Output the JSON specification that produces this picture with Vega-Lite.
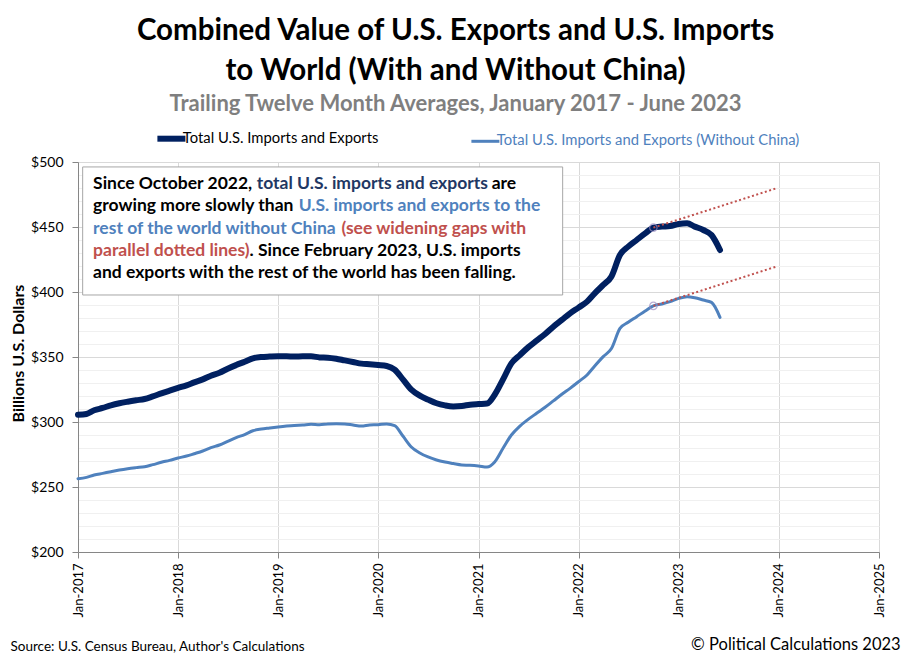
{
  "$schema": "https://vega.github.io/schema/vega-lite/v6.json",
  "width": 801,
  "height": 390,
  "autosize": "none",
  "padding": {"left": 78, "top": 162, "right": 31, "bottom": 110},
  "background": "white",
  "title": {
    "text": ["Combined Value of U.S. Exports and U.S. Imports", "to World (With and Without China)"],
    "subtitle": "Trailing Twelve Month Averages, January 2017 - June 2023",
    "anchor": "middle",
    "dx": -23,
    "font": "Lato",
    "fontSize": 29.5,
    "fontWeight": "bold",
    "color": "#000000",
    "lineHeight": 40,
    "subtitleFont": "Lato",
    "subtitleFontSize": 22,
    "subtitleFontWeight": "bold",
    "subtitleColor": "#7f7f7f",
    "subtitlePadding": 8,
    "offset": 15
  },
  "config": {"view": {"stroke": null}, "font": "Lato"},
  "datasets": {
    "series": [
      {"date": "2017-01-01", "total": 305.6, "without_china": 256.4},
      {"date": "2017-02-01", "total": 306.2, "without_china": 257.4},
      {"date": "2017-03-01", "total": 309.0, "without_china": 259.2},
      {"date": "2017-04-01", "total": 310.8, "without_china": 260.5},
      {"date": "2017-05-01", "total": 312.8, "without_china": 261.8},
      {"date": "2017-06-01", "total": 314.4, "without_china": 263.1},
      {"date": "2017-07-01", "total": 315.6, "without_china": 264.1},
      {"date": "2017-08-01", "total": 316.7, "without_china": 264.9},
      {"date": "2017-09-01", "total": 317.7, "without_china": 265.6},
      {"date": "2017-10-01", "total": 319.7, "without_china": 267.2},
      {"date": "2017-11-01", "total": 322.0, "without_china": 269.0},
      {"date": "2017-12-01", "total": 324.1, "without_china": 270.5},
      {"date": "2018-01-01", "total": 326.2, "without_china": 272.3},
      {"date": "2018-02-01", "total": 328.2, "without_china": 273.8},
      {"date": "2018-03-01", "total": 330.5, "without_china": 275.6},
      {"date": "2018-04-01", "total": 332.8, "without_china": 277.7},
      {"date": "2018-05-01", "total": 335.6, "without_china": 280.3},
      {"date": "2018-06-01", "total": 337.9, "without_china": 282.3},
      {"date": "2018-07-01", "total": 341.0, "without_china": 285.1},
      {"date": "2018-08-01", "total": 343.8, "without_china": 288.0},
      {"date": "2018-09-01", "total": 346.4, "without_china": 290.3},
      {"date": "2018-10-01", "total": 349.0, "without_china": 293.3},
      {"date": "2018-11-01", "total": 350.0, "without_china": 294.6},
      {"date": "2018-12-01", "total": 350.3, "without_china": 295.4},
      {"date": "2019-01-01", "total": 350.5, "without_china": 296.2},
      {"date": "2019-02-01", "total": 350.5, "without_china": 296.9},
      {"date": "2019-03-01", "total": 350.3, "without_china": 297.4},
      {"date": "2019-04-01", "total": 350.5, "without_china": 297.7},
      {"date": "2019-05-01", "total": 350.5, "without_china": 298.2},
      {"date": "2019-06-01", "total": 349.7, "without_china": 297.9},
      {"date": "2019-07-01", "total": 349.5, "without_china": 298.5},
      {"date": "2019-08-01", "total": 348.7, "without_china": 298.7},
      {"date": "2019-09-01", "total": 347.4, "without_china": 298.5},
      {"date": "2019-10-01", "total": 346.2, "without_china": 297.7},
      {"date": "2019-11-01", "total": 344.9, "without_china": 296.9},
      {"date": "2019-12-01", "total": 344.4, "without_china": 297.7},
      {"date": "2020-01-01", "total": 343.8, "without_china": 297.9},
      {"date": "2020-02-01", "total": 343.1, "without_china": 298.5},
      {"date": "2020-03-01", "total": 340.3, "without_china": 297.2},
      {"date": "2020-04-01", "total": 332.6, "without_china": 289.0},
      {"date": "2020-05-01", "total": 324.9, "without_china": 280.8},
      {"date": "2020-06-01", "total": 320.3, "without_china": 276.2},
      {"date": "2020-07-01", "total": 317.2, "without_china": 273.1},
      {"date": "2020-08-01", "total": 314.4, "without_china": 270.8},
      {"date": "2020-09-01", "total": 312.8, "without_china": 269.2},
      {"date": "2020-10-01", "total": 312.0, "without_china": 268.0},
      {"date": "2020-11-01", "total": 312.3, "without_china": 266.9},
      {"date": "2020-12-01", "total": 313.3, "without_china": 266.7},
      {"date": "2021-01-01", "total": 313.8, "without_china": 266.2},
      {"date": "2021-02-01", "total": 314.2, "without_china": 265.4},
      {"date": "2021-03-01", "total": 321.0, "without_china": 269.3},
      {"date": "2021-04-01", "total": 333.0, "without_china": 280.0},
      {"date": "2021-05-01", "total": 345.1, "without_china": 290.0},
      {"date": "2021-06-01", "total": 351.5, "without_china": 296.9},
      {"date": "2021-07-01", "total": 357.4, "without_china": 302.0},
      {"date": "2021-08-01", "total": 362.6, "without_china": 306.7},
      {"date": "2021-09-01", "total": 367.7, "without_china": 311.3},
      {"date": "2021-10-01", "total": 373.3, "without_china": 316.2},
      {"date": "2021-11-01", "total": 378.5, "without_china": 321.3},
      {"date": "2021-12-01", "total": 383.6, "without_china": 325.9},
      {"date": "2022-01-01", "total": 388.0, "without_china": 331.0},
      {"date": "2022-02-01", "total": 392.6, "without_china": 336.2},
      {"date": "2022-03-01", "total": 399.0, "without_china": 343.1},
      {"date": "2022-04-01", "total": 405.4, "without_china": 350.3},
      {"date": "2022-05-01", "total": 412.0, "without_china": 356.5},
      {"date": "2022-06-01", "total": 428.5, "without_china": 372.0},
      {"date": "2022-07-01", "total": 434.9, "without_china": 376.7},
      {"date": "2022-08-01", "total": 440.0, "without_china": 381.0},
      {"date": "2022-09-01", "total": 445.1, "without_china": 385.4},
      {"date": "2022-10-01", "total": 449.5, "without_china": 389.3},
      {"date": "2022-11-01", "total": 450.3, "without_china": 390.8},
      {"date": "2022-12-01", "total": 450.8, "without_china": 392.6},
      {"date": "2023-01-01", "total": 452.3, "without_china": 395.1},
      {"date": "2023-02-01", "total": 452.8, "without_china": 396.4},
      {"date": "2023-03-01", "total": 450.3, "without_china": 395.6},
      {"date": "2023-04-01", "total": 447.7, "without_china": 393.8},
      {"date": "2023-05-01", "total": 443.8, "without_china": 392.0},
      {"date": "2023-06-01", "total": 432.3, "without_china": 380.5}
    ],
    "trend": [
      {"date": "2022-10-01", "total": 449.5, "without_china": 389.3},
      {"date": "2023-12-20", "total": 479.5, "without_china": 419.3}
    ],
    "notebox": [
      {"start": "2017-01-18", "end": "2021-11-04", "low": 397.7, "high": 496.2}
    ],
    "notes": [
      {"date": "2017-02-25", "value": 479.0, "text": "Since October 2022,", "kind": "black"},
      {"date": "2018-10-15", "value": 479.0, "text": "total U.S. imports and exports", "kind": "navy"},
      {"date": "2021-02-18", "value": 479.0, "text": "are", "kind": "black"},
      {"date": "2017-02-25", "value": 462.0, "text": "growing more slowly than", "kind": "black"},
      {"date": "2019-03-17", "value": 462.0, "text": "U.S. imports and exports to the", "kind": "light"},
      {"date": "2017-02-25", "value": 444.6, "text": "rest of the world without China", "kind": "light"},
      {"date": "2019-08-20", "value": 444.6, "text": "(see widening gaps with", "kind": "red"},
      {"date": "2017-02-25", "value": 427.7, "text": "parallel dotted lines)", "kind": "red"},
      {"date": "2018-09-19", "value": 427.7, "text": ".  Since February 2023, U.S. imports", "kind": "black"},
      {"date": "2017-02-25", "value": 410.5, "text": "and exports with the rest of the world has been falling.", "kind": "black"}
    ],
    "credit": [
      {"date": "2025-03-21", "value": 124.6, "text": "© Political Calculations 2023"}
    ]
  },
  "resolve": {"scale": {"color": "independent"}, "axis": {"y": "independent"}},
  "layer": [
    {
      "data": {"name": "trend"},
      "transform": [{"fold": ["total", "without_china"], "as": ["series", "value"]}],
      "mark": {"type": "line", "opacity": 0},
      "encoding": {
        "x": {"field": "date", "type": "temporal"},
        "y": {
          "field": "value",
          "type": "quantitative",
          "axis": {
            "orient": "left",
            "title": null,
            "labels": false,
            "ticks": false,
            "domain": false,
            "grid": true,
            "gridColor": "#f0f0f0",
            "values": [210, 220, 230, 240, 260, 270, 280, 290, 310, 320, 330, 340, 360, 370, 380, 390, 410, 420, 430, 440, 460, 470, 480, 490]
          }
        },
        "detail": {"field": "series", "type": "nominal"}
      }
    },
    {
      "data": {"name": "series"},
      "transform": [{"fold": ["total", "without_china"], "as": ["series", "value"]}],
      "mark": {"type": "line", "strokeCap": "round", "strokeJoin": "round", "interpolate": "monotone"},
      "encoding": {
        "x": {
          "field": "date",
          "type": "temporal",
          "scale": {"type": "utc", "domain": [{"year": 2017, "month": 1, "date": 1, "utc": true}, {"year": 2025, "month": 1, "date": 1, "utc": true}]},
          "axis": {
            "title": "Source: U.S. Census Bureau, Author's Calculations",
            "titleX": -68,
            "titleY": 98,
            "titleAlign": "left",
            "titleAngle": 0,
            "titleBaseline": "alphabetic",
            "titleFont": "Lato",
            "titleFontSize": 13.5,
            "titleFontWeight": "normal",
            "titleColor": "#000000",
            "format": "%b-%Y",
            "tickCount": {"interval": "year", "step": 1},
            "labelAngle": 270,
            "labelAlign": "right",
            "labelBaseline": "middle",
            "labelFont": "Lato",
            "labelFontSize": 13,
            "labelColor": "#000000",
            "labelPadding": 5,
            "labelFlush": false,
            "labelOverlap": false,
            "tickSize": 6,
            "tickColor": "#868686",
            "domainColor": "#868686",
            "grid": true,
            "gridColor": "#d9d9d9"
          }
        },
        "y": {
          "field": "value",
          "type": "quantitative",
          "scale": {"domain": [200, 500], "nice": false, "zero": false},
          "axis": {
            "orient": "left",
            "title": "Billions U.S. Dollars",
            "titleFont": "Lato",
            "titleFontSize": 16,
            "titleFontWeight": "bold",
            "titleColor": "#000000",
            "titleX": -60,
            "titleY": 191,
            "titleAngle": 270,
            "titleAlign": "center",
            "titleBaseline": "middle",
            "values": [200, 250, 300, 350, 400, 450, 500],
            "format": "$d",
            "labelOverlap": false,
            "labelFont": "Lato",
            "labelFontSize": 14,
            "labelColor": "#000000",
            "labelPadding": 9,
            "tickSize": 6,
            "tickColor": "#868686",
            "domainColor": "#868686",
            "grid": true,
            "gridColor": "#d9d9d9"
          }
        },
        "color": {
          "field": "series",
          "type": "nominal",
          "scale": {"domain": ["total", "without_china"], "range": ["#002060", "#4f81bd"]},
          "legend": {
            "orient": "none",
            "legendX": 86,
            "legendY": -31,
            "direction": "horizontal",
            "title": null,
            "symbolType": "stroke",
            "symbolSize": 784,
            "labelFont": "Lato",
            "labelFontSize": 14.8,
            "labelOffset": 4,
            "columnPadding": 86,
            "labelExpr": "datum.value === 'total' ? 'Total U.S. Imports and Exports' : 'Total U.S. Imports and Exports (Without China)'",
            "labelLimit": 400,
            "encode": {
              "labels": {"update": {"fill": {"signal": "datum.value === 'without_china' ? '#4f81bd' : '#000000'"}}},
              "symbols": {"update": {"strokeWidth": {"signal": "datum.value === 'total' ? 6 : 3"}}}
            }
          }
        },
        "strokeWidth": {
          "field": "series",
          "type": "nominal",
          "scale": {"domain": ["total", "without_china"], "range": [6, 3]},
          "legend": null
        }
      }
    },
    {
      "data": {"name": "trend"},
      "transform": [{"fold": ["total", "without_china"], "as": ["series", "value"]}],
      "mark": {"type": "line", "color": "#c0504d", "strokeWidth": 2, "strokeDash": [2, 2.5]},
      "encoding": {
        "x": {"field": "date", "type": "temporal"},
        "y": {"field": "value", "type": "quantitative", "axis": null},
        "detail": {"field": "series", "type": "nominal"}
      }
    },
    {
      "data": {"name": "trend"},
      "transform": [
        {"fold": ["total", "without_china"], "as": ["series", "value"]},
        {"filter": "time(datum.date) === utc(2022, 9, 1)"}
      ],
      "mark": {"type": "point", "shape": "circle", "filled": false, "color": "#9d8ec4", "size": 55, "strokeWidth": 1.2},
      "encoding": {
        "x": {"field": "date", "type": "temporal"},
        "y": {"field": "value", "type": "quantitative", "axis": null}
      }
    },
    {
      "data": {"name": "notebox"},
      "mark": {"type": "rect", "fill": "#ffffff", "stroke": "#a6a6a6", "strokeWidth": 1},
      "encoding": {
        "x": {"field": "start", "type": "temporal"},
        "x2": {"field": "end"},
        "y": {"field": "low", "type": "quantitative", "axis": null},
        "y2": {"field": "high"}
      }
    },
    {
      "data": {"name": "notes"},
      "mark": {"type": "text", "align": "left", "baseline": "alphabetic", "font": "Lato", "fontSize": 17.5, "fontWeight": "bold"},
      "encoding": {
        "x": {"field": "date", "type": "temporal"},
        "y": {"field": "value", "type": "quantitative", "axis": null},
        "text": {"field": "text"},
        "color": {
          "field": "kind",
          "type": "nominal",
          "scale": {"domain": ["black", "navy", "light", "red"], "range": ["#000000", "#1f3864", "#4f81bd", "#c0504d"]},
          "legend": null
        }
      }
    },
    {
      "data": {"name": "credit"},
      "mark": {"type": "text", "align": "right", "baseline": "alphabetic", "font": "Lato", "fontSize": 16.5, "color": "#000000"},
      "encoding": {
        "x": {"field": "date", "type": "temporal"},
        "y": {"field": "value", "type": "quantitative", "axis": null},
        "text": {"field": "text"}
      }
    }
  ]
}
